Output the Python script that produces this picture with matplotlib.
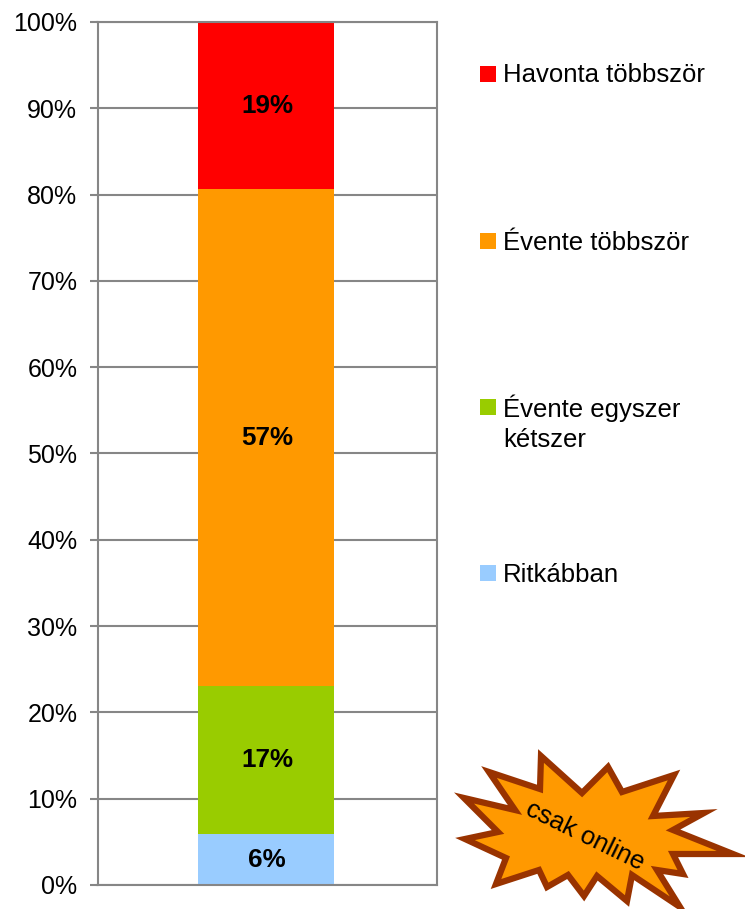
import matplotlib
matplotlib.use('Agg')
from matplotlib import pyplot as plt
from matplotlib.patches import Polygon, Rectangle

plt.rcParams['font.family'] = ['Liberation Sans', 'DejaVu Sans']

W, H = 745, 909
GRAY = '#868686'

# bottom to top
categories = ['Ritkábban', 'Évente egyszer\nkétszer', 'Évente többször', 'Havonta többször']
values = [5.9, 17.2, 57.5, 19.4]
labels = ['6%', '17%', '57%', '19%']
colors = ['#99ccff', '#99cc00', '#ff9900', '#ff0000']
ticks = list(range(0, 101, 10))
tick_labels = ['%d%%' % t for t in ticks]
legend_y = [573, 407, 241, 74]

# starburst outline, in picture pixels
star_x = [541, 582, 608, 622, 674, 653, 704, 673, 733, 673, 683, 657, 680, 632,
          627, 597, 584, 568, 547, 539, 496, 506, 465, 498, 464, 515, 489, 540]
star_y = [756, 793, 767, 792, 775, 816, 813, 830, 854, 854, 874, 870, 907, 875,
          901, 876, 896, 875, 887, 870, 884, 858, 839, 832, 798, 810, 772, 789]

fig = plt.figure(figsize=(W/100, H/100), dpi=100)
ax = fig.add_axes([97.5/W, 1-885/H, (437-97.5)/W, (885-22)/H])

# gridlines under the bar
ax.set_axisbelow(True)
ax.yaxis.grid(True, color=GRAY, linewidth=1.5)
bottom = 0
for v, lab, c in zip(values, labels, colors):
    ax.bar(0, v, bottom=bottom, width=0.4, color=c, linewidth=0)
    ax.text(0.003, bottom+v/2, lab, ha='center', va='center', fontsize=18.7, fontweight='bold', color='black')
    bottom += v

ax.set_xlim(-0.497, 0.503)
ax.set_ylim(0, 100)
ax.set_xticks([])
ax.set_yticks(ticks)
ax.set_yticklabels(tick_labels, fontsize=18, color='black')
ax.tick_params(axis='y', length=6, width=1.5, color=GRAY, pad=8.5)
for s in ax.spines.values():
    s.set_color(GRAY)
    s.set_linewidth(1.5)

# legend, placed by hand like the original
for cat, c, y in zip(categories, colors, legend_y):
    fig.add_artist(Rectangle((480/W, 1-(y+8)/H), 16/W, 16/H, transform=fig.transFigure, facecolor=c, edgecolor='none'))
    if '\n' in cat:
        fig.text(503/W, 1-(y+16)/H, cat, ha='left', va='center', fontsize=18.5, linespacing=1.33)
    else:
        fig.text(503/W, 1-(y+1.5)/H, cat, ha='left', va='center', fontsize=18.5)

star = [(x/W, 1-y/H) for x, y in zip(star_x, star_y)]
fig.add_artist(Polygon(star, closed=True, transform=fig.transFigure, facecolor='#ff9900',
                       edgecolor='#993300', linewidth=4.5, joinstyle='miter'))
fig.text(585/W, 1-836/H, 'csak online', rotation=-26, rotation_mode='anchor',
         ha='center', va='center', fontsize=18.5, color='black')

fig.savefig('out.png', dpi=100)
